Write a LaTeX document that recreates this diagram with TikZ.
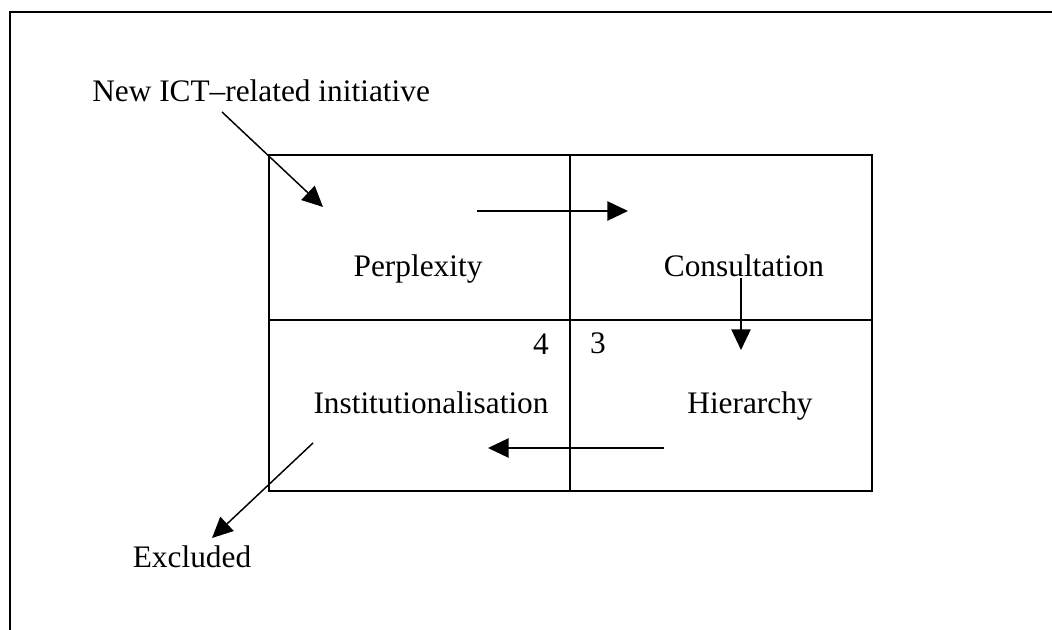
\documentclass[tikz,border=0pt]{standalone}
\usepackage{fontspec}
\setmainfont{Liberation Serif}
\usetikzlibrary{arrows.meta}

\tikzset{
  label text/.style={inner sep=0pt, font=\fontsize{23.5}{28}\selectfont},
  flow arrow/.style={line width=1.1pt, -{Triangle[length=15.5pt,width=14.5pt]}},
  grid line/.style={line width=1.3pt}
}

\begin{document}
\begin{tikzpicture}[x=0.75pt,y=0.75pt,yscale=-1,xscale=1]
\useasboundingbox (0,0) rectangle (1052,630);

%Frame (runs off the page at right and bottom)
    \draw [grid line] (1052,12) -- (10,12) -- (10,630) ;

%Shape: Grid of four cells
    \draw [grid line] (269,155) rectangle (872,491) ;
    \draw [grid line] (570,155) -- (570,491) ;
    \draw [grid line] (269,320) -- (872,320) ;

% Text Node
    \draw (92,102) node (initiative) [label text, anchor=base west] {New ICT–related initiative};
% Text Node
    \draw (418,277) node (perplexity) [label text, anchor=base] {Perplexity};
% Text Node
    \draw (744,277) node (consultation) [label text, anchor=base] {Consultation};
% Text Node
    \draw (541,355) node (four) [label text, anchor=base] {4};
% Text Node
    \draw (598,354) node (three) [label text, anchor=base] {3};
% Text Node
    \draw (431,413) node (institution) [label text, anchor=base] {Institutionalisation};
% Text Node
    \draw (750,413) node (hierarchy) [label text, anchor=base] {Hierarchy};
% Text Node
    \draw (192,567) node (excluded) [label text, anchor=base] {Excluded};

%Arrow ends
    \coordinate (newFrom) at (222,112);
    \coordinate (newTo) at (323,207);
    \coordinate (perFrom) at (477,211);
    \coordinate (perTo) at (628,211);
    \coordinate (conFrom) at (741,278);
    \coordinate (conTo) at (741,350);
    \coordinate (hieFrom) at (664,448);
    \coordinate (hieTo) at (488,448);
    \coordinate (insFrom) at (313,443);
    \coordinate (insTo) at (212,538);

%Straight Lines
    \draw [flow arrow] (newFrom) -- (newTo) ;
    \draw [flow arrow] (perFrom) -- (perTo) ;
    \draw [flow arrow] (conFrom) -- (conTo) ;
    \draw [flow arrow] (hieFrom) -- (hieTo) ;
    \draw [flow arrow] (insFrom) -- (insTo) ;

\end{tikzpicture}
\end{document}
